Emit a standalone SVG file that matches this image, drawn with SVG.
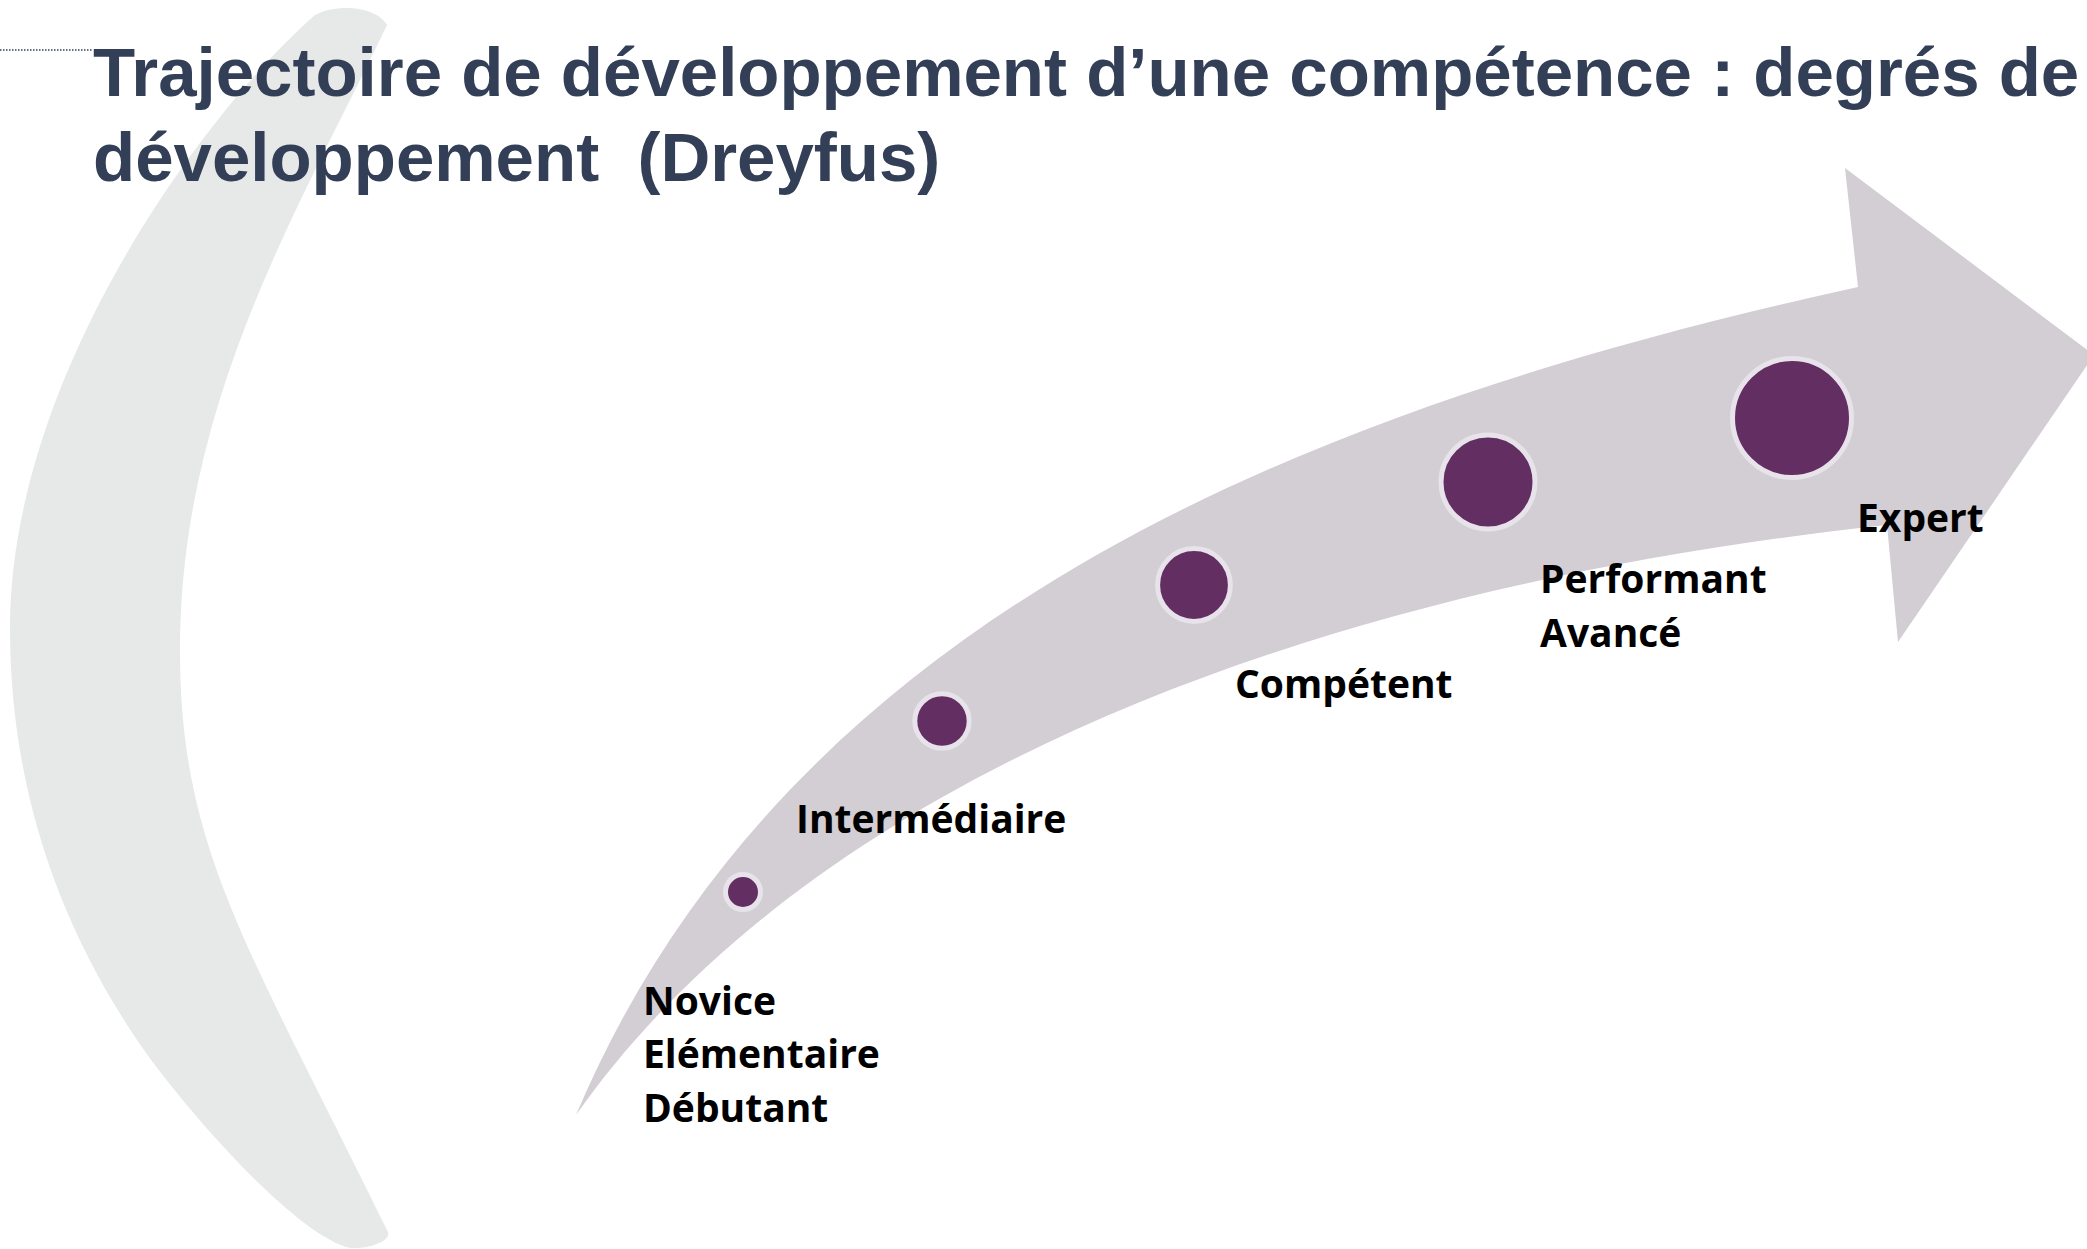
<svg xmlns="http://www.w3.org/2000/svg" width="2087" height="1249" viewBox="0 0 2087 1249">
  <defs>
    <style>
      .title { font-family: "Liberation Sans", Arial, sans-serif; font-weight: bold; font-size: 69px; fill: #333f56; white-space: pre; }
      .lbl { font-family: "Open Sans", "Noto Sans", sans-serif; font-weight: bold; font-size: 39px; fill: #000000; }
      .dot { fill: #632e62; stroke: #e8e2ea; stroke-width: 5; }
    </style>
  </defs>
  <rect x="0" y="0" width="2087" height="1249" fill="#ffffff"/>

  <g id="crescent">
    <path fill="#e7e8e8" d="M387,25 C301,205 180,400 180,650 C180,850 247,944 388,1232 C391,1240 372,1249 350,1248 C292,1234 176,1098 137,1040 C53,915 10,778 10,628 C10,378 202,114 315,15 C335,4 375,5 387,25 Z"/>
  </g>

  <g id="title">
    <line x1="0" y1="50" x2="93" y2="50" stroke="#333f56" stroke-width="1.5" stroke-dasharray="1.5 1.5"/>
    <text class="title" x="93" y="96">Trajectoire de développement d’une compétence : degrés de</text>
    <text class="title" x="93" y="181">développement  (Dreyfus)</text>
  </g>

  <g id="connectors">
    <path id="arrow" fill="#d3cdd4" d="M576,1115 C790,609 1321,405 1858,287 L1845,168 L2094,355 L1898,642 L1887,525 C1291,589 806,788 576,1115 Z"/>
  </g>

  <g id="novice">
    <circle class="dot" cx="743" cy="892" r="17.5"/>
    <text class="lbl" x="643" y="1015">Novice</text>
    <text class="lbl" x="643" y="1068">Elémentaire</text>
    <text class="lbl" x="643" y="1122">Débutant</text>
  </g>
  <g id="intermediaire">
    <circle class="dot" cx="942" cy="721" r="27.2"/>
    <text class="lbl" x="796" y="833">Intermédiaire</text>
  </g>
  <g id="competent">
    <circle class="dot" cx="1194" cy="585" r="36.4"/>
    <text class="lbl" x="1235" y="698">Compétent</text>
  </g>
  <g id="performant">
    <circle class="dot" cx="1488" cy="482" r="47"/>
    <text class="lbl" x="1540" y="593">Performant</text>
    <text class="lbl" x="1540" y="647">Avancé</text>
  </g>
  <g id="expert">
    <circle class="dot" cx="1792" cy="418" r="59.5"/>
    <text class="lbl" x="1857" y="532">Expert</text>
  </g>
</svg>
